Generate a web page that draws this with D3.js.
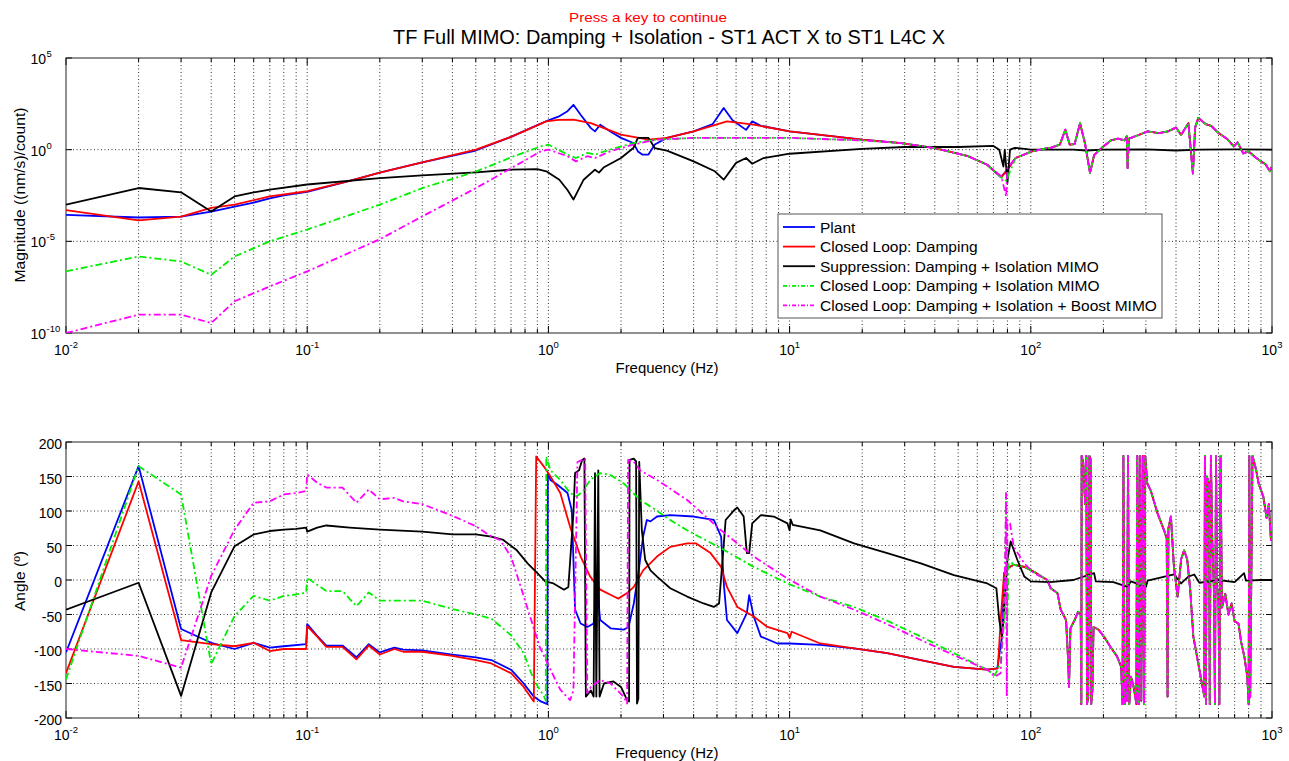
<!DOCTYPE html>
<html><head><meta charset="utf-8">
<script src="https://cdn.jsdelivr.net/npm/d3@7"></script>
<style>
body{margin:0;background:#fff}
text{font-family:"Liberation Sans",Arial,sans-serif;fill:#000}
</style>
</head><body>
<svg id="c" width="1289" height="761"></svg>
<script>
// ---------------- DATA ----------------
const seriesNames = ["Plant","Closed Loop: Damping","Suppression: Damping + Isolation MIMO","Closed Loop: Damping + Isolation MIMO","Closed Loop: Damping + Isolation + Boost MIMO"];
const xTickValues = [0.01,0.1,1,10,100,1000];
const xTickExp = ["-2","-1","0","1","2","3"];
const magTickValues = [1e-10,1e-5,1,1e5];
const magTickExp = ["-10","-5","0","5"];
const phaseTickValues = [-200,-150,-100,-50,0,50,100,150,200];

// shared high-frequency part of the closed-loop magnitudes ([Hz, (nm/s)/count])
const hfMag = [[121,1.26],[132,1.9],[139,12.3],[145,1.9],[152,2],[160,28],[168,2],[176,0.054],[183,0.5],[190,0.8],[200,1.5],[215,3.2],[230,4],[245,3.2],[250,5.4],[252,0.1],[255,4],[280,6.3],[305,10],[340,7.9],[370,10],[400,16],[420,6.3],[450,28],[470,0.05],[480,16],[495,54],[530,25],[560,20],[600,8.1],[650,4],[695,1.5],[720,2.5],[760,0.63],[800,0.8],[850,0.4],[900,0.23],[940,0.16],[980,0.066],[1000,0.126]];

const plantMag = [[0.01,2.8e-4],[0.02,2.0e-4],[0.03,2.2e-4],[0.04,4.2e-4],[0.05,7.9e-4],[0.06,1.3e-3],[0.07,2.2e-3],[0.08,3.2e-3],[0.1,5e-3],[0.15,0.02],[0.2,0.056],[0.3,0.2],[0.5,0.9],[0.7,5],[0.9,22],[1.0,40],[1.1,63],[1.2,126],[1.27,280],[1.36,80],[1.5,15],[1.56,10],[1.64,23],[1.8,10],[2.0,4.4],[2.25,2.3],[2.35,0.8],[2.45,0.54],[2.6,0.54],[2.76,1.9],[3.1,4.4],[4.0,10],[4.8,25],[5.33,186],[5.8,40],[6.6,12],[7.0,35],[7.6,20],[10,10],[20,3.5],[29,2.3],[40,1.23],[55,0.44],[66,0.15],[75,0.032],[79,0.066],[86.5,0.35],[101,0.81],[114,1.12]];
const dampMag = [[0.01,5e-4],[0.02,1.4e-4],[0.03,2.2e-4],[0.04,6.6e-4],[0.05,1e-3],[0.07,2.8e-3],[0.1,5.4e-3],[0.15,0.02],[0.2,0.056],[0.3,0.2],[0.5,1.0],[0.7,5],[0.98,35],[1.1,42],[1.27,44],[1.5,28],[2.0,6.6],[2.6,3.5],[3.1,4.4],[4.0,10],[5.5,35],[7.1,23],[10,10],[20,3.5],[29,2.3],[40,1.23],[55,0.44],[66,0.15],[75.5,0.032],[79,0.066],[86.5,0.35],[101,0.81],[114,1.12]];
const suppMag = [[0.01,1e-3],[0.02,8.1e-3],[0.03,4.7e-3],[0.04,4.3e-4],[0.05,2.8e-3],[0.06,4.7e-3],[0.07,6.6e-3],[0.1,0.0126],[0.2,0.028],[0.3,0.04],[0.5,0.058],[0.7,0.081],[0.9,0.087],[0.98,0.066],[1.11,0.023],[1.2,6.3e-3],[1.27,1.9e-3],[1.4,0.023],[1.56,0.081],[1.62,0.056],[1.7,0.11],[2.0,0.35],[2.25,1.23],[2.35,4.4],[2.6,4.4],[2.76,1.23],[3.1,0.89],[4.0,0.23],[4.9,0.066],[5.33,0.023],[6.0,0.19],[6.6,0.35],[7.0,0.17],[7.8,0.35],[10,0.6],[20,1.1],[30,1.4],[50,1.4],[70,1.6],[74,1.0],[77,0.12],[78,1.0],[80,0.015],[82,1.0],[86,1.26],[100,1.0],[150,1.0],[170,0.9],[200,1.0],[300,1.05],[400,0.9],[500,1.0],[700,1.05],[1000,1.0]];
const isoMag = [[0.01,2.3e-7],[0.02,1.5e-6],[0.03,8e-7],[0.04,1.5e-7],[0.05,1.5e-6],[0.07,1e-5],[0.1,4.4e-5],[0.2,1e-3],[0.3,8e-3],[0.5,0.063],[0.72,0.44],[0.93,1.5],[1.0,1.9],[1.2,0.54],[1.3,0.35],[1.45,0.66],[1.56,0.54],[1.8,1.0],[2.25,2.3],[2.8,3.5],[4,4.4],[10,4.4],[20,3.2],[29,2.3],[40,1.23],[55,0.44],[66,0.15],[75.5,0.03],[79,0.02],[86.5,0.35],[101,0.81],[114,1.12]];
const boostMag = [[0.01,1e-10],[0.02,1e-9],[0.03,1e-9],[0.04,3.5e-10],[0.05,5.4e-9],[0.07,3.5e-8],[0.1,2.3e-7],[0.2,1.3e-5],[0.3,2.3e-4],[0.5,7.9e-3],[0.72,0.12],[0.93,0.81],[1.0,1.0],[1.2,0.44],[1.3,0.23],[1.45,0.44],[1.56,0.35],[1.8,0.8],[2.25,1.9],[2.8,3.5],[4,4.4],[10,4.4],[20,3.2],[29,2.3],[40,1.23],[55,0.44],[66,0.15],[75.5,0.035],[79,2.8e-3],[80,0.1],[86.5,0.35],[101,0.81],[114,1.12]];

// shared high-frequency part of the closed-loop phases ([Hz, deg])
const hfPhase = [[121,-12],[129,-19],[133,-43],[140,-58],[143,-120],[144,-155],[146,-70],[152,-58],[157,-46],[161,-50],[162,-180],[162.5,180],[165,170],[168,110],[170,180],[171,-180],[173,-170],[175,180],[177,175],[178,-180],[180,-160],[182,-68],[191,-72],[201,-82],[214,-97],[228,-111],[237,-126],[240,-180],[242,180],[245,-180],[248,-150],[250,-175],[253,180],[256,-180],[260,-140],[265,-150],[270,-165],[274,-180],[276,180],[280,-180],[283,180],[287,-175],[291,180],[295,-180],[298,180],[304,140],[314,130],[335,97],[357,72],[366,60],[369,-169],[372,75],[381,92],[392,20],[406,-24],[420,30],[432,43],[445,30],[458,-14],[472,-82],[500,-130],[524,-169],[527,180],[532,-180],[537,150],[548,140],[552,-180],[558,180],[565,60],[575,-20],[580,-180],[586,180],[592,-10],[600,-30],[605,-180],[612,180],[620,-40],[640,-20],[660,-50],[680,-34],[700,-60],[726,-63],[745,-90],[768,-111],[790,-140],[800,-180],[805,180],[812,-170],[830,180],[860,159],[880,140],[920,121],[950,90],[970,110],[990,58],[1000,60]];

const plantPhase = [[0.01,-105],[0.02,165],[0.03,-71],[0.04,-91],[0.05,-100],[0.06,-91],[0.07,-98],[0.08,-96],[0.099,-93],[0.1,-64],[0.11,-81],[0.12,-95],[0.14,-95],[0.16,-112],[0.18,-93],[0.2,-105],[0.23,-98],[0.25,-101],[0.3,-102],[0.4,-108],[0.5,-112],[0.58,-116],[0.7,-130],[0.79,-150],[0.87,-169],[0.93,-176],[0.99,-180],[0.995,155],[1.02,145],[1.09,138],[1.2,126],[1.25,101],[1.29,-43],[1.36,-63],[1.45,-68],[1.54,-63],[1.59,-10],[1.64,-58],[1.81,-70],[2.05,-72],[2.15,-68],[2.26,-34],[2.36,10],[2.47,63],[2.56,87],[2.65,85],[2.82,92],[3.2,94],[4.0,92],[4.85,87],[5.2,63],[5.35,-10],[5.5,-58],[6.07,-77],[6.65,-48],[6.8,-22],[7.1,-53],[7.6,-82],[8.9,-92],[10,-92],[13.4,-94],[18.5,-99],[25.4,-106],[35,-116],[48,-126],[66,-130],[72.6,-128],[76,-82],[77.5,10],[80,17],[85,22],[94,19],[103,12],[117,0]];
const dampPhase = [[0.01,-135],[0.02,143],[0.03,-87],[0.04,-93],[0.05,-96],[0.06,-91],[0.07,-103],[0.08,-100],[0.099,-100],[0.1,-67],[0.11,-82],[0.12,-97],[0.14,-97],[0.16,-115],[0.18,-95],[0.2,-108],[0.23,-100],[0.25,-104],[0.3,-104],[0.4,-110],[0.5,-116],[0.58,-121],[0.7,-135],[0.79,-155],[0.87,-176],[0.89,179],[0.96,164],[1.02,150],[1.12,126],[1.23,77],[1.36,34],[1.49,5],[1.64,-14],[1.87,-24],[1.95,-27],[2.12,-19],[2.26,-10],[2.47,14],[2.82,34],[3.2,48],[3.76,53],[4.1,53],[4.7,39],[5.2,19],[5.5,-10],[6.07,-39],[7.1,-53],[8.1,-68],[9.8,-77],[10,-84],[10.2,-75],[13.4,-92],[18.5,-99],[25.4,-106],[35,-116],[48,-126],[66,-130],[73,-128],[75,-58],[77.5,10],[80,17],[85,22],[94,19],[103,12],[117,0]];
const suppPhase = [[0.01,-43],[0.02,-4],[0.03,-168],[0.04,-18],[0.05,49],[0.06,66],[0.07,71],[0.08,73],[0.09,74],[0.099,76],[0.1,70],[0.11,76],[0.12,79],[0.15,76],[0.2,73],[0.3,70],[0.4,66],[0.5,66],[0.58,63],[0.65,58],[0.74,43],[0.82,24],[0.9,10],[0.97,-2],[1.05,-5],[1.16,-14],[1.21,-10],[1.27,97],[1.29,155],[1.34,159],[1.38,174],[1.41,176],[1.43,-169],[1.5,-160],[1.54,-169],[1.56,155],[1.58,-169],[1.61,159],[1.63,-169],[1.7,-150],[1.86,-147],[2.0,-155],[2.12,-174],[2.16,-176],[2.17,174],[2.26,176],[2.31,172],[2.33,-179],[2.36,-172],[2.38,171],[2.44,72],[2.52,29],[2.65,14],[2.82,5],[3.2,-12],[3.76,-24],[4.4,-34],[4.85,-39],[5.1,-34],[5.3,39],[5.43,87],[5.88,101],[6.07,105],[6.45,92],[6.65,39],[6.8,39],[7.0,82],[7.6,94],[8.6,92],[9.8,82],[10,72],[10.1,88],[10.3,80],[13.4,72],[18.5,53],[25.4,39],[35,24],[48,7],[66,-5],[72,-12],[74,-58],[76,-82],[77,-60],[80,29],[82.5,56],[88,29],[94,5],[100,-2],[120,-3],[150,0],[183,10],[186,-2],[220,-3],[252,-10],[260,-2],[300,-10],[305,-1],[393,8],[420,-5],[450,5],[476,8],[500,-4],[600,0],[700,-3],[766,10],[780,-1],[900,0],[1000,0]];
const isoPhase = [[0.01,-144],[0.02,165],[0.03,124],[0.04,-122],[0.05,-52],[0.06,-23],[0.07,-30],[0.08,-23],[0.09,-21],[0.099,-18],[0.1,3],[0.12,-16],[0.14,-16],[0.16,-38],[0.18,-18],[0.2,-30],[0.25,-30],[0.3,-30],[0.4,-42],[0.5,-50],[0.58,-56],[0.7,-80],[0.79,-106],[0.87,-145],[0.96,-169],[0.975,-175],[0.98,179],[1.02,159],[1.12,145],[1.23,126],[1.31,121],[1.4,130],[1.49,145],[1.64,155],[1.81,152],[2.05,140],[2.4,116],[2.8,101],[3.2,87],[3.76,72],[5.2,46],[7.1,19],[9.8,-5],[13.4,-24],[18.5,-39],[25,-58],[35,-82],[48,-106],[66,-130],[71,-138],[75,-120],[78,-50],[79,126],[79.5,-100],[81,30],[85,22],[94,19],[103,12],[117,0]];
const boostPhase = [[0.01,-100],[0.02,-110],[0.03,-127],[0.04,6],[0.05,73],[0.06,112],[0.07,114],[0.08,124],[0.09,126],[0.099,129],[0.1,153],[0.11,141],[0.12,134],[0.14,134],[0.16,112],[0.18,131],[0.2,117],[0.23,119],[0.25,114],[0.3,110],[0.4,93],[0.5,78],[0.58,63],[0.63,58],[0.7,34],[0.76,-5],[0.84,-53],[0.92,-97],[1.02,-130],[1.12,-159],[1.23,-174],[1.27,-160],[1.32,171],[1.38,174],[1.42,176],[1.45,-164],[1.5,-155],[1.64,-145],[1.81,-150],[2.05,-169],[2.12,-179],[2.14,174],[2.26,171],[2.4,159],[2.82,145],[3.76,116],[5.2,72],[7.1,34],[9.8,2],[13.4,-24],[18.5,-43],[25,-63],[35,-87],[48,-109],[66,-130],[71,-140],[75,-135],[78,0],[79,126],[79.5,-169],[80,87],[82,82],[85,48],[94,24],[103,10],[117,0]];

// ---------------- CHART ----------------
const svg = d3.select("#c");
const L = 66, R = 1272;
const T1 = 58, B1 = 333, T2 = 442, B2 = 718;
const x = d3.scaleLog().domain([0.01,1000]).range([L,R]);
const yM = d3.scaleLog().domain([1e-10,1e5]).range([B1,T1]);
const yP = d3.scaleLinear().domain([-200,200]).range([B2,T2]);

const colors = ["#0000ff","#ff0000","#000000","#00ee00","#ff00ff"];
const dashes = [null,null,null,"7,3,2,3","7,3,2,3"];
const LW = 1.8;

const defs = svg.append("defs");
defs.append("clipPath").attr("id","clip1").append("rect").attr("x",L).attr("y",T1).attr("width",R-L).attr("height",B1-T1);
defs.append("clipPath").attr("id","clip2").append("rect").attr("x",L).attr("y",T2).attr("width",R-L).attr("height",B2-T2);

const allX = x.ticks();
const isMajor = v => Math.abs(Math.log10(v) - Math.round(Math.log10(v))) < 1e-9;

function panel(top, bot, y, yTicks, yLabelFn) {
  const g = svg.append("g");
  g.append("rect").attr("x",L).attr("y",top).attr("width",R-L).attr("height",bot-top).attr("fill","#fff");
  g.selectAll(".gx").data(allX.filter(v => v>0.01 && v<1000)).enter().append("line")
    .attr("x1",d=>x(d)).attr("x2",d=>x(d)).attr("y1",top).attr("y2",bot)
    .attr("stroke","#333").attr("stroke-width",1).attr("stroke-dasharray","1,2.5");
  g.selectAll(".gy").data(yTicks.slice(1,-1)).enter().append("line")
    .attr("x1",L).attr("x2",R).attr("y1",d=>y(d)).attr("y2",d=>y(d))
    .attr("stroke","#333").attr("stroke-width",1).attr("stroke-dasharray","1,2.5");
  allX.forEach(v => {
    const len = isMajor(v) ? 7 : 4;
    g.append("line").attr("x1",x(v)).attr("x2",x(v)).attr("y1",bot).attr("y2",bot-len).attr("stroke","#000");
    g.append("line").attr("x1",x(v)).attr("x2",x(v)).attr("y1",top).attr("y2",top+len).attr("stroke","#000");
  });
  yTicks.forEach(v => {
    g.append("line").attr("x1",L).attr("x2",L+6).attr("y1",y(v)).attr("y2",y(v)).attr("stroke","#000");
    g.append("line").attr("x1",R).attr("x2",R-6).attr("y1",y(v)).attr("y2",y(v)).attr("stroke","#000");
  });
  xTickValues.forEach((v,i) => {
    const t = g.append("text").attr("x",x(v)).attr("y",bot+22).attr("text-anchor","middle").attr("font-size",14);
    t.append("tspan").text("10");
    t.append("tspan").attr("dy",-7).attr("font-size",9.5).text(xTickExp[i]);
  });
  yTicks.forEach((v,i) => yLabelFn(g, v, i));
  g.append("rect").attr("x",L).attr("y",top).attr("width",R-L).attr("height",bot-top)
    .attr("fill","none").attr("stroke","#222").attr("stroke-width",1);
  return g;
}

panel(T1,B1,yM,magTickValues,(g,v,i)=>{
  g.append("text").attr("x",46).attr("y",yM(v)+6).attr("text-anchor","end").attr("font-size",14).text("10");
  g.append("text").attr("x",46.5).attr("y",yM(v)-1).attr("text-anchor","start").attr("font-size",9.5).text(magTickExp[i]);
});

panel(T2,B2,yP,phaseTickValues,(g,v)=>{
  g.append("text").attr("x",62).attr("y",yP(v)+7).attr("text-anchor","end").attr("font-size",14).text(v);
});

// lines
const mags = [plantMag.concat(hfMag), dampMag.concat(hfMag), suppMag, isoMag.concat(hfMag), boostMag.concat(hfMag)];
const phases = [plantPhase.concat(hfPhase), dampPhase.concat(hfPhase), suppPhase, isoPhase.concat(hfPhase), boostPhase.concat(hfPhase)];
const lineM = d3.line().x(d=>x(d[0])).y(d=>yM(d[1]));
const lineP = d3.line().x(d=>x(d[0])).y(d=>yP(d[1]));
const gl1 = svg.append("g").attr("clip-path","url(#clip1)");
const gl2 = svg.append("g").attr("clip-path","url(#clip2)");
mags.forEach((s,i)=>{
  gl1.append("path").attr("d",lineM(s)).attr("fill","none").attr("stroke",colors[i])
    .attr("stroke-width",LW).attr("stroke-dasharray",dashes[i]).attr("stroke-linejoin","round");
});
phases.forEach((s,i)=>{
  gl2.append("path").attr("d",lineP(s)).attr("fill","none").attr("stroke",colors[i])
    .attr("stroke-width",LW).attr("stroke-dasharray",dashes[i]).attr("stroke-linejoin","round");
});

// axis labels
svg.append("text").attr("x",667).attr("y",373).attr("text-anchor","middle").attr("font-size",14)
  .attr("textLength",103).attr("lengthAdjust","spacingAndGlyphs").text("Frequency (Hz)");
svg.append("text").attr("x",667).attr("y",758).attr("text-anchor","middle").attr("font-size",14)
  .attr("textLength",103).attr("lengthAdjust","spacingAndGlyphs").text("Frequency (Hz)");
svg.append("text").attr("transform","translate(25,195) rotate(-90)").attr("text-anchor","middle").attr("font-size",14)
  .attr("textLength",175).attr("lengthAdjust","spacingAndGlyphs").text("Magnitude ((nm/s)/count)");
svg.append("text").attr("transform","translate(25,581) rotate(-90)").attr("text-anchor","middle").attr("font-size",14)
  .attr("textLength",60).attr("lengthAdjust","spacingAndGlyphs").text("Angle (º)");

// titles
svg.append("text").attr("x",648).attr("y",22).attr("text-anchor","middle").attr("font-size",13.5)
  .attr("textLength",158).attr("lengthAdjust","spacingAndGlyphs").style("fill","#ff0000").text("Press a key to continue");
svg.append("text").attr("x",669).attr("y",44).attr("text-anchor","middle").attr("font-size",19.5)
  .attr("textLength",552).attr("lengthAdjust","spacingAndGlyphs").text("TF Full MIMO: Damping + Isolation - ST1 ACT X to ST1 L4C X");

// legend
const lg = svg.append("g");
lg.append("rect").attr("x",778).attr("y",214).attr("width",384).attr("height",104).attr("fill","#fff").attr("stroke","#555");
seriesNames.forEach((n,i)=>{
  const yy = 227 + i*19.6;
  lg.append("line").attr("x1",783).attr("x2",815).attr("y1",yy).attr("y2",yy).attr("stroke",colors[i])
    .attr("stroke-width",LW).attr("stroke-dasharray",dashes[i] ? "4,2,1,2" : null);
  lg.append("text").attr("x",820).attr("y",yy+5.5).attr("font-size",15.5).text(n);
});
</script>
</body></html>
